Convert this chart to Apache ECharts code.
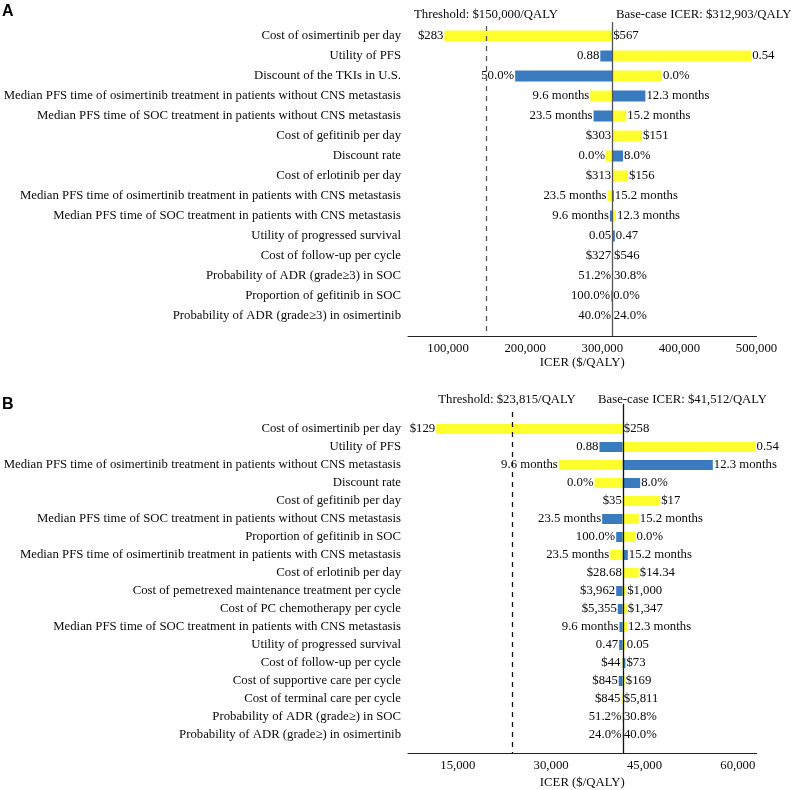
<!DOCTYPE html>
<html><head><meta charset="utf-8">
<script src="https://cdn.jsdelivr.net/npm/echarts@6/dist/echarts.min.js"></script>
<style>html,body{margin:0;padding:0;background:#fff}#c{width:793px;height:790px}</style>
</head><body><div id="c"></div>
<script>
// ---------- Panel A data ----------
const paramsA = [
  "Cost of osimertinib per day",
  "Utility of PFS",
  "Discount of the TKIs in U.S.",
  "Median PFS time of osimertinib treatment in patients without CNS metastasis",
  "Median PFS time of SOC treatment in patients without CNS metastasis",
  "Cost of gefitinib per day",
  "Discount rate",
  "Cost of erlotinib per day",
  "Median PFS time of osimertinib treatment in patients with CNS metastasis",
  "Median PFS time of SOC treatment in patients with CNS metastasis",
  "Utility of progressed survival",
  "Cost of follow-up per cycle",
  "Probability of ADR (grade\u22653) in SOC",
  "Proportion of gefitinib in SOC",
  "Probability of ADR (grade\u22653) in osimertinib"
];
const leftIcerA  = [95200, 297400, 187000, 284400, 288700, 312903, 304800, 312903, 306800, 309900, 312903, 312903, 312903, 311600, 312903];
const rightIcerA = [312903, 493100, 377500, 355900, 331200, 351600, 326900, 333400, 315000, 317800, 316300, 313900, 313800, 312903, 313700];
const leftColorA = ["Y","B","B","Y","B","B","Y","B","Y","B","Y","B","B","B","B"];
const leftLabelA  = ["$283","0.88","50.0%","9.6 months","23.5 months","$303","0.0%","$313","23.5 months","9.6 months","0.05","$327","51.2%","100.0%","40.0%"];
const rightLabelA = ["$567","0.54","0.0%","12.3 months","15.2 months","$151","8.0%","$156","15.2 months","12.3 months","0.47","$546","30.8%","0.0%","24.0%"];
const baseA = 312903, thresholdA = 150000;
const ticksA = [100000, 200000, 300000, 400000, 500000];

// ---------- Panel B data ----------
const paramsB = [
  "Cost of osimertinib per day",
  "Utility of PFS",
  "Median PFS time of osimertinib treatment in patients without CNS metastasis",
  "Discount rate",
  "Cost of gefitinib per day",
  "Median PFS time of SOC treatment in patients without CNS metastasis",
  "Proportion of gefitinib in SOC",
  "Median PFS time of osimertinib treatment in patients with CNS metastasis",
  "Cost of erlotinib per day",
  "Cost of pemetrexed maintenance treatment per cycle",
  "Cost of PC chemotherapy per cycle",
  "Median PFS time of SOC treatment in patients with CNS metastasis",
  "Utility of progressed survival",
  "Cost of follow-up per cycle",
  "Cost of supportive care per cycle",
  "Cost of terminal care per cycle",
  "Probability of ADR (grade\u2265) in SOC",
  "Probability of ADR (grade\u2265) in osimertinib"
];
const leftIcerB  = [11530, 37770, 31230, 36970, 41512, 38200, 40450, 39490, 41512, 40450, 40710, 40980, 40930, 41300, 40870, 41300, 41480, 41490];
const rightIcerB = [41512, 62840, 55980, 44310, 47530, 44090, 43560, 42320, 44090, 42060, 42160, 42200, 41970, 41940, 41830, 41512, 41540, 41530];
const leftColorB = ["Y","B","Y","Y","B","B","B","Y","B","B","B","B","B","Y","B","Y","B","Y"];
const leftLabelB  = ["$129","0.88","9.6 months","0.0%","$35","23.5 months","100.0%","23.5 months","$28.68","$3,962","$5,355","9.6 months","0.47","$44","$845","$845","51.2%","24.0%"];
const rightLabelB = ["$258","0.54","12.3 months","8.0%","$17","15.2 months","0.0%","15.2 months","$14.34","$1,000","$1,347","12.3 months","0.05","$73","$169","$5,811","30.8%","40.0%"];
const baseB = 41512, thresholdB = 23815;
const ticksB = [15000, 30000, 45000, 60000];

// ---------- styling ----------
const FONT = "'Liberation Serif','Times New Roman',serif";
const FS = 12.75;
const TXT = '#0a0a0a';
const YEL = '#FFFF2E', BLU = '#3A7BBF';
const colorOf = k => k === 'Y' ? YEL : BLU;
const other = k => k === 'Y' ? 'B' : 'Y';
const fmt = v => String(v).replace(/\B(?=(\d{3})+(?!\d))/g, ',');

function panel(idx, params, L, R, lc, ll, rl, base, thr, nTop, barW, lineColor, thrStart, baseStart, nMax) {
  const pad = n => Array(n).fill('-');
  const cats = [];
  for (let i = 0; i < nTop; i++) cats.push(' '.repeat(i + 1));
  params.forEach(p => cats.push(p));
  cats.push(' '.repeat(nTop + 1));
  const s0 = pad(nTop).concat(L).concat(['-']);
  const s1 = pad(nTop).concat(L.map((v, i) => ({ value: base - v, itemStyle: { color: colorOf(lc[i]) } }))).concat(['-']);
  const s2 = pad(nTop).concat(R.map((v, i) => ({ value: v - base, itemStyle: { color: colorOf(other(lc[i])) } }))).concat(['-']);
  const lblStyle = { fontFamily: FONT, fontSize: FS, color: TXT, distance: 1 };
  const series = [
    { type: 'bar', xAxisIndex: idx, yAxisIndex: idx * 2, stack: 'S' + idx, data: s0, barWidth: barW,
      itemStyle: { color: 'rgba(0,0,0,0)' }, silent: true },
    { type: 'bar', xAxisIndex: idx, yAxisIndex: idx * 2, stack: 'S' + idx, data: s1, barWidth: barW,
      label: Object.assign({ show: true, position: 'left', formatter: p => ll[p.dataIndex - nTop] }, lblStyle) },
    { type: 'bar', xAxisIndex: idx, yAxisIndex: idx * 2, stack: 'S' + idx, data: s2, barWidth: barW,
      label: Object.assign({ show: true, position: 'right', formatter: p => rl[p.dataIndex - nTop] }, lblStyle) },
    { type: 'scatter', xAxisIndex: idx, yAxisIndex: idx * 2 + 1, data: [],
      markLine: { silent: true, symbol: ['none', 'none'], label: { show: false }, animation: false,
        data: [
          [{ coord: [thr, thrStart], lineStyle: { type: [5, 5], color: lineColor, width: 1.3 } }, { coord: [thr, nMax] }],
          [{ coord: [base, baseStart], lineStyle: { type: 'solid', color: lineColor, width: 1.3 } }, { coord: [base, nMax] }]
        ] } }
  ];
  return { cats, series };
}

const pA = panel(0, paramsA, leftIcerA, rightIcerA, leftColorA, leftLabelA, rightLabelA, baseA, thresholdA, 1, 11, '#555', 0.5, 0.3, 16);
const pB = panel(1, paramsB, leftIcerB, rightIcerB, leftColorB, leftLabelB, rightLabelB, baseB, thresholdB, 2, 10, '#111', 1.05, 0.6, 20);

function xAxis(idx, min, max, ticks, nameGap) {
  return {
    gridIndex: idx, type: 'value', min, max,
    axisLine: { show: true, onZero: false, lineStyle: { color: '#222', width: 1.2 } },
    axisTick: { show: false }, splitLine: { show: false },
    axisLabel: { customValues: ticks, formatter: v => fmt(v), margin: 6, fontFamily: FONT, fontSize: FS, color: TXT },
    name: 'ICER ($/QALY)', nameLocation: 'middle', nameGap,
    nameTextStyle: { fontFamily: FONT, fontSize: FS, color: TXT }
  };
}
function yCat(idx, cats) {
  return {
    gridIndex: idx, type: 'category', data: cats, inverse: true, boundaryGap: false,
    axisLine: { show: false }, axisTick: { show: false }, splitLine: { show: false },
    axisLabel: { interval: 0, margin: 7, fontFamily: FONT, fontSize: FS, color: TXT }
  };
}
function yDummy(idx, max) {
  return { gridIndex: idx, type: 'value', min: 0, max, inverse: true, show: false, splitLine: { show: false } };
}

const option = {
  animation: false,
  backgroundColor: '#fff',
  grid: [
    { left: 408, width: 348.5, top: 16, height: 320, containLabel: false, outerBoundsMode: 'none' },
    { left: 408, width: 348.5, top: 393, height: 360, containLabel: false, outerBoundsMode: 'none' }
  ],
  xAxis: [xAxis(0, 48000, 500000, ticksA, 20), xAxis(1, 7000, 63000, ticksB, 23)],
  yAxis: [yCat(0, pA.cats), yDummy(0, 16), yCat(1, pB.cats), yDummy(1, 20)],
  series: pA.series.concat(pB.series),
  graphic: [
    { type: 'text', x: 2, y: 4, style: { text: 'A', font: "bold 16px 'Liberation Sans',Arial,sans-serif", fill: '#000' } },
    { type: 'text', x: 2, y: 397, style: { text: 'B', font: "bold 16px 'Liberation Sans',Arial,sans-serif", fill: '#000' } },
    { type: 'text', x: 486, y: 15, style: { text: 'Threshold: $' + fmt(thresholdA) + '/QALY', font: FS + "px " + FONT, fill: TXT, textAlign: 'center', textVerticalAlign: 'middle' } },
    { type: 'text', x: 616, y: 15, style: { text: 'Base-case ICER: $' + fmt(baseA) + '/QALY', font: FS + "px " + FONT, fill: TXT, textAlign: 'left', textVerticalAlign: 'middle' } },
    { type: 'text', x: 507, y: 400, style: { text: 'Threshold: $' + fmt(thresholdB) + '/QALY', font: FS + "px " + FONT, fill: TXT, textAlign: 'center', textVerticalAlign: 'middle' } },
    { type: 'text', x: 598, y: 400, style: { text: 'Base-case ICER: $' + fmt(baseB) + '/QALY', font: FS + "px " + FONT, fill: TXT, textAlign: 'left', textVerticalAlign: 'middle' } }
  ]
};
echarts.init(document.getElementById('c')).setOption(option);
</script></body></html>
